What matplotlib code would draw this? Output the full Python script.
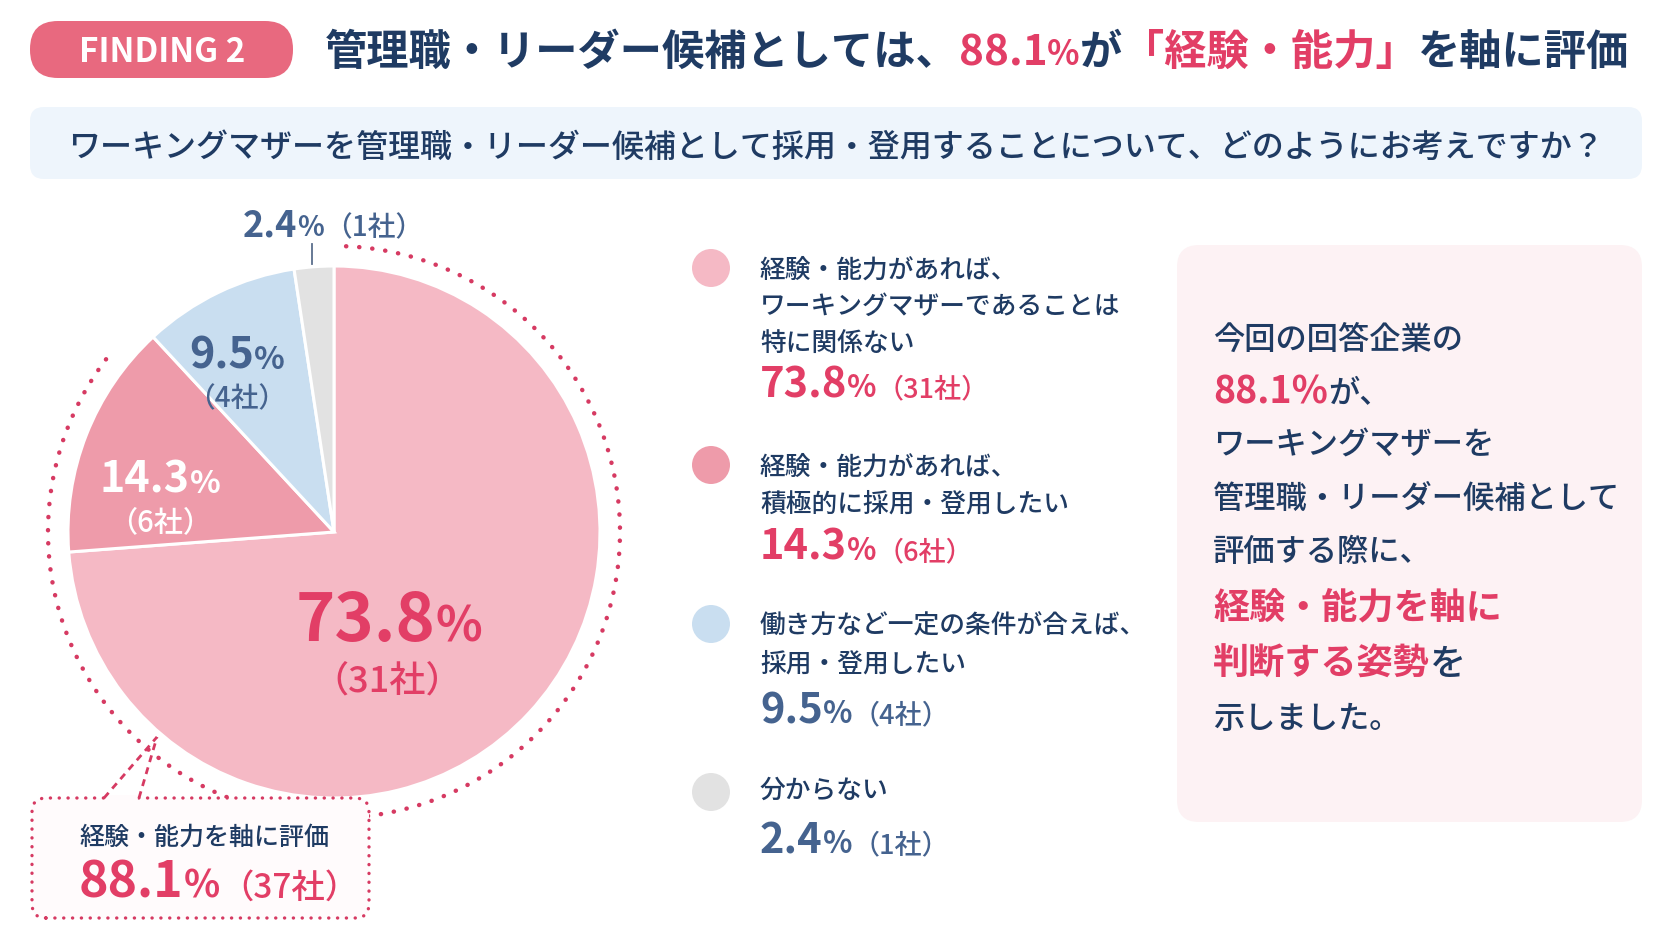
import numpy as np
import matplotlib
matplotlib.use("Agg")
import matplotlib.pyplot as plt
from matplotlib.patches import FancyBboxPatch, Circle

# ---------------- data ----------------
categories = [
    "経験・能力があれば、\nワーキングマザーであることは\n特に関係ない",
    "経験・能力があれば、\n積極的に採用・登用したい",
    "働き方など一定の条件が合えば、\n採用・登用したい",
    "分からない",
]
shares = [73.8, 14.3, 9.5, 2.4]
companies = [31, 6, 4, 1]
combined_share = 88.1
combined_companies = 37

badge_text = "FINDING 2"
title_runs_text = ["管理職・リーダー候補としては、", "88.1", "%", "が", "「経験・能力」", "を軸に評価"]
question = "ワーキングマザーを管理職・リーダー候補として採用・登用することについて、どのようにお考えですか？"
callout_label = "経験・能力を軸に評価"
summary_lines = [
    [("今回の回答企業の", "n")],
    [("88.1%", "r"), ("が、", "n")],
    [("ワーキングマザーを", "n")],
    [("管理職・リーダー候補として", "n")],
    [("評価する際に、", "n")],
    [("経験・能力を軸に", "r")],
    [("判断する姿勢", "r"), ("を", "n")],
    [("示しました。", "n")],
]

# ---------------- style ----------------
W, H = 1672, 941
FONT = ["Noto Sans CJK JP", "DejaVu Sans"]
plt.rcParams["font.family"] = FONT
NAVY = "#1F3B63"
RED = "#E23E66"
BLUEV = "#45638F"
BADGE = "#E8697F"
pie_colors = ["#F5B9C5", "#EE9BAA", "#C9DEF0", "#E2E2E2"]
DOT = "#D63A62"

fig = plt.figure(figsize=(W / 100, H / 100), dpi=100)
fig.patch.set_facecolor("white")
ax = fig.add_axes([0, 0, 1, 1])
renderer = fig.canvas.get_renderer()


def Y(y):
    return H - y


def base(cy, size):
    return cy + 0.36 * size * 100 / 72


def runs(x, cy, parts, ha="left", zorder=10):
    """parts: list of (text, size, color, weight); cy: image y of the line centre"""
    main = max(p[1] for p in parts)
    yb = base(cy, main)
    objs = []
    cx = x
    for t, s, c, w in parts:
        tt = ax.text(cx, Y(yb), t, fontsize=s, color=c, fontweight=w,
                     va="baseline", ha="left", family=FONT, zorder=zorder)
        cx += tt.get_window_extent(renderer=renderer).width
        objs.append(tt)
    if ha == "center":
        shift = (cx - x) / 2
        for tt in objs:
            px, py = tt.get_position()
            tt.set_position((px - shift, py))
    return cx


def rbox(x0, y0, x1, y1, r, **kw):
    p = FancyBboxPatch((x0, Y(y1)), x1 - x0, y1 - y0,
                       boxstyle=f"round,pad=0,rounding_size={r}", **kw)
    ax.add_patch(p)
    return p


# ---------------- header ----------------
rbox(30, 21, 293, 78, 28, facecolor=BADGE, edgecolor="none", zorder=2)
runs(162, 50, [(badge_text, 24, "white", "bold")], ha="center")

tsz = 30.4
runs(325, 50, [
    (title_runs_text[0], tsz, NAVY, "bold"),
    (title_runs_text[1], tsz, RED, "bold"),
    (title_runs_text[2], tsz * 0.8, RED, "bold"),
    (title_runs_text[3], tsz, NAVY, "bold"),
    (title_runs_text[4], tsz, RED, "bold"),
    (title_runs_text[5], tsz, NAVY, "bold"),
])

rbox(30, 107, 1642, 179, 14, facecolor="#EEF5FC", edgecolor="none", zorder=1)
runs(836, 145, [(question, 23.05, NAVY, "medium")], ha="center")

# ---------------- pie ----------------
CX, CY, R = 334, 532, 266
wedges, _ = ax.pie(shares, colors=pie_colors, startangle=90, counterclock=False,
                   center=(CX, Y(CY)), radius=R,
                   wedgeprops=dict(edgecolor="white", linewidth=2.2))
for wdg in wedges:
    wdg.set_zorder(3)

# dotted arc around the two "experience/ability" slices
RA = 286
a_start = 89.0 + 360
a_end = 90.0 - combined_share * 3.6 + 360 + 10
th = np.radians(np.linspace(a_end, a_start, 400))
ax.plot(CX + RA * np.cos(th), Y(CY) + RA * np.sin(th), color=DOT, lw=3.2,
        linestyle=(0, (0.05, 2.9)), dash_capstyle="round", zorder=4)


def value_parts(share, n, big, pct, small, color, wb="bold", ws="medium"):
    return [(f"{share}", big, color, wb), ("%", pct, color, wb)], [(f"（{n}社）", small, color, ws)]


p1, s1 = value_parts(shares[0], companies[0], 48, 35, 26, RED)
runs(389, 617, p1, ha="center")
runs(387, 679, s1, ha="center")

p2, s2 = value_parts(shares[1], companies[1], 31, 23, 21, "white")
runs(160, 477, p2, ha="center")
runs(160, 521, s2, ha="center")

p3, s3 = value_parts(shares[2], companies[2], 31, 23, 20, BLUEV)
runs(237, 353, p3, ha="center")
runs(237, 397, s3, ha="center")

p4, s4 = value_parts(shares[3], companies[3], 26, 20, 20, BLUEV)
runs(243, 223, p4 + s4)
ax.plot([312, 312], [Y(244), Y(264)], color="#5A6E8C", lw=1.3, zorder=5)

# ---------------- callout ----------------
cb = rbox(32, 798, 369, 918, 14, facecolor="#FFFBFC", edgecolor=DOT, lw=2.4,
          linestyle=(0, (0.05, 2.6)), zorder=5)
cb.set_capstyle("round")
ax.plot([108, 135], [Y(798), Y(798)], color="#FFFBFC", lw=4, zorder=6)
for xb in (104, 139):
    ax.plot([xb, 157], [Y(798), Y(737)], color=DOT, lw=2.0, linestyle=(0, (2.5, 2.0)),
            zorder=6)
runs(79, 836, [(callout_label, 18, NAVY, "medium")])
runs(79, 880, [(f"{combined_share}", 36, RED, "bold"), ("%", 27, RED, "bold"),
               (f"（{combined_companies}社）", 24, RED, "medium")])

# ---------------- legend ----------------
leg_circle_y = [268, 465, 624, 792]
leg_line_y = [[268, 305, 342], [465, 502], [624, 662], [788]]
leg_value_y = [382, 545, 708, 838]
val_colors = [RED, RED, BLUEV, BLUEV]
for i, lab in enumerate(categories):
    ax.add_patch(Circle((711, Y(leg_circle_y[i])), 19, facecolor=pie_colors[i],
                        edgecolor="none", zorder=5))
    for line, ly in zip(lab.split("\n"), leg_line_y[i]):
        runs(760, ly, [(line, 18.5, NAVY, "medium")])
    c = val_colors[i]
    runs(760, leg_value_y[i], [(f"{shares[i]}", 30, c, "bold"), ("%", 22, c, "bold"),
                               (f"（{companies[i]}社）", 19.5, c, "medium")])

# ---------------- summary box ----------------
rbox(1177, 245, 1642, 822, 22, facecolor="#FDF2F4", edgecolor="none", zorder=1)
sum_y = [338, 390, 443, 497, 550, 605, 662, 717]
for idx, (ly, line) in enumerate(zip(sum_y, summary_lines)):
    big_line = idx in (5, 6)
    parts = []
    for t, k in line:
        if k == "r":
            sz = 27 if "%" in t else 26
            parts.append((t, sz, RED, "bold"))
        else:
            parts.append((t, 26 if big_line else 22.5, NAVY, "medium"))
    runs(1213, ly, parts)

ax.set_xlim(0, W)
ax.set_ylim(0, H)
ax.set_aspect("auto")
ax.axis("off")
fig.savefig("out.png", dpi=100, facecolor="white")
